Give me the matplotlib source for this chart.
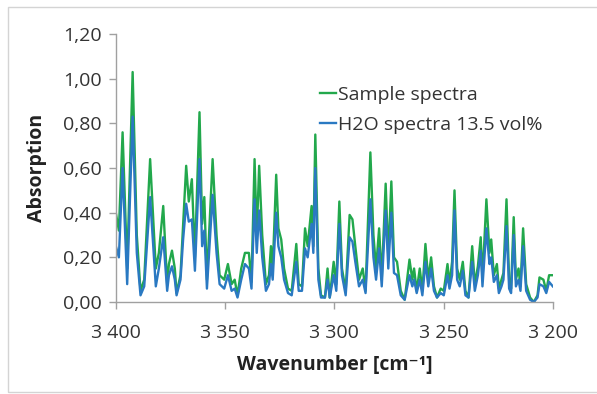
import numpy as np
import matplotlib
matplotlib.use('Agg')
import matplotlib.pyplot as plt
from matplotlib.patches import Rectangle
from matplotlib.ticker import FuncFormatter

plt.rcParams['font.family'] = ['Open Sans', 'DejaVu Sans']

# wavenumber [cm-1]
wavenumber = [3400.0, 3398.6, 3396.9, 3394.8, 3392.3, 3390.4, 3388.7, 3387.0, 3384.3, 3381.7,
              3380.3, 3378.3, 3376.5, 3375.7, 3374.3, 3373.0, 3372.2, 3370.4, 3369.2, 3367.8,
              3366.6, 3365.2, 3363.8, 3361.7, 3360.5, 3359.5, 3358.3, 3355.7, 3353.9, 3352.5,
              3350.4, 3348.7, 3347.0, 3345.6, 3344.3, 3342.6, 3340.9, 3339.1, 3337.9, 3336.5,
              3335.5, 3334.4, 3333.0, 3331.3, 3329.9, 3329.0, 3328.2, 3326.6, 3325.6, 3324.3,
              3323.0, 3321.2, 3319.5, 3317.4, 3316.3, 3314.8, 3313.4, 3312.2, 3310.4, 3309.6,
              3308.7, 3307.3, 3306.1, 3304.3, 3303.1, 3302.1, 3300.3, 3299.1, 3297.7, 3296.5,
              3294.8, 3293.0, 3291.7, 3290.4, 3288.7, 3287.0, 3285.7, 3283.5, 3282.1, 3280.9,
              3279.5, 3278.3, 3276.5, 3275.3, 3273.9, 3272.7, 3271.3, 3269.6, 3267.8, 3265.6,
              3264.3, 3263.5, 3262.3, 3260.9, 3259.7, 3258.3, 3257.0, 3255.7, 3254.4, 3253.0,
              3251.3, 3249.9, 3248.2, 3247.3, 3246.1, 3245.0, 3243.8, 3242.6, 3241.2, 3240.0,
              3238.6, 3236.9, 3235.7, 3234.3, 3233.0, 3232.2, 3230.4, 3229.0, 3228.2, 3227.0,
              3225.6, 3224.7, 3223.5, 3222.6, 3221.2, 3220.0, 3219.1, 3217.9, 3216.9, 3215.7,
              3214.8, 3213.6, 3212.2, 3210.4, 3208.7, 3207.0, 3206.1, 3204.3, 3203.0, 3201.7,
              3200.0]

sample = [0.40, 0.32, 0.76, 0.15, 1.03, 0.30, 0.05, 0.10, 0.64, 0.15,
          0.22, 0.43, 0.08, 0.17, 0.23, 0.15, 0.04, 0.12, 0.35, 0.61,
          0.45, 0.55, 0.20, 0.85, 0.35, 0.47, 0.10, 0.64, 0.30, 0.12,
          0.10, 0.17, 0.08, 0.10, 0.03, 0.15, 0.22, 0.22, 0.09, 0.64,
          0.30, 0.61, 0.30, 0.08, 0.12, 0.25, 0.15, 0.57, 0.33, 0.28,
          0.15, 0.06, 0.05, 0.26, 0.08, 0.07, 0.33, 0.25, 0.43, 0.25,
          0.75, 0.15, 0.03, 0.02, 0.15, 0.02, 0.18, 0.08, 0.45, 0.15,
          0.05, 0.39, 0.37, 0.25, 0.10, 0.15, 0.05, 0.67, 0.30, 0.15,
          0.33, 0.10, 0.53, 0.20, 0.54, 0.20, 0.18, 0.05, 0.01, 0.19,
          0.10, 0.15, 0.05, 0.15, 0.05, 0.26, 0.10, 0.20, 0.07, 0.02,
          0.06, 0.05, 0.17, 0.08, 0.18, 0.50, 0.15, 0.10, 0.18, 0.05,
          0.02, 0.25, 0.08, 0.16, 0.29, 0.10, 0.46, 0.22, 0.28, 0.12,
          0.17, 0.06, 0.10, 0.13, 0.46, 0.10, 0.06, 0.38, 0.10, 0.15,
          0.07, 0.33, 0.08, 0.02, 0.00, 0.03, 0.11, 0.10, 0.05, 0.12,
          0.12]

h2o = [0.25, 0.20, 0.60, 0.08, 0.83, 0.22, 0.03, 0.07, 0.47, 0.07,
       0.15, 0.29, 0.05, 0.12, 0.16, 0.10, 0.03, 0.10, 0.28, 0.44,
       0.36, 0.37, 0.14, 0.64, 0.25, 0.32, 0.06, 0.48, 0.22, 0.08,
       0.06, 0.12, 0.05, 0.06, 0.02, 0.10, 0.17, 0.15, 0.06, 0.46,
       0.22, 0.41, 0.20, 0.05, 0.08, 0.17, 0.10, 0.40, 0.25, 0.20,
       0.10, 0.04, 0.03, 0.18, 0.05, 0.05, 0.24, 0.20, 0.35, 0.22,
       0.60, 0.10, 0.02, 0.02, 0.10, 0.02, 0.12, 0.05, 0.35, 0.12,
       0.03, 0.29, 0.27, 0.18, 0.07, 0.10, 0.04, 0.46, 0.20, 0.10,
       0.24, 0.07, 0.41, 0.15, 0.40, 0.13, 0.12, 0.03, 0.01, 0.12,
       0.07, 0.10, 0.04, 0.10, 0.03, 0.18, 0.07, 0.15, 0.05, 0.02,
       0.04, 0.03, 0.12, 0.06, 0.12, 0.41, 0.10, 0.07, 0.14, 0.03,
       0.02, 0.18, 0.05, 0.12, 0.23, 0.07, 0.33, 0.17, 0.20, 0.09,
       0.12, 0.04, 0.07, 0.10, 0.34, 0.06, 0.04, 0.30, 0.07, 0.10,
       0.05, 0.25, 0.05, 0.01, 0.00, 0.02, 0.08, 0.07, 0.04, 0.09,
       0.07]

yticks = [0.0, 0.2, 0.4, 0.6, 0.8, 1.0, 1.2]
xticks = [3400, 3350, 3300, 3250, 3200]

fig = plt.figure(figsize=(5.97, 3.94), dpi=100)
ax = fig.add_axes([0.194, 0.2335, 0.732, 0.680])

# chart area frame
fig.patches.append(Rectangle((8 / 597, 2 / 394), 1.2, 1 - 9 / 394, transform=fig.transFigure,
                             fill=False, edgecolor='#d4d4d4', linewidth=1.0))

green = '#22a84c'
blue = '#2a79c2'
ax.plot(wavenumber, sample, color=green, linewidth=1.7, label='Sample spectra')
ax.plot(wavenumber, h2o, color=blue, linewidth=1.7, label='H2O spectra 13.5 vol%')

ax.set_xlim(3400, 3200)
ax.set_ylim(0, 1.2)
ax.set_yticks(yticks)
ax.set_xticks(xticks)
ax.yaxis.set_major_formatter(FuncFormatter(lambda v, p: f'{v:.2f}'.replace('.', ',')))
ax.xaxis.set_major_formatter(FuncFormatter(lambda v, p: f'{int(v) // 1000} {int(v) % 1000:03d}'))

for s in ['top', 'right']:
    ax.spines[s].set_visible(False)
for s in ['left', 'bottom']:
    ax.spines[s].set_color('#a0a0a0')
    ax.spines[s].set_linewidth(1.0)
ax.tick_params(axis='both', colors='#a0a0a0', labelcolor='#333333', labelsize=14,
               direction='out', length=5, width=1.0)
ax.tick_params(axis='x', pad=11)
ax.tick_params(axis='y', pad=5)

ax.set_xlabel('Wavenumber [cm\u207b\u00b9]', fontsize=14, fontweight='bold', color='#222222', labelpad=9)
ax.set_ylabel('Absorption', fontsize=14, fontweight='bold', color='#222222', labelpad=12)

leg = ax.legend(loc='upper left', bbox_to_anchor=(0.45, 0.835), frameon=False, fontsize=14,
                handlelength=0.8, handletextpad=0.1, labelspacing=0.6, borderaxespad=0)
for t in leg.get_texts():
    t.set_color('#333333')

fig.savefig('out.png', dpi=100)
